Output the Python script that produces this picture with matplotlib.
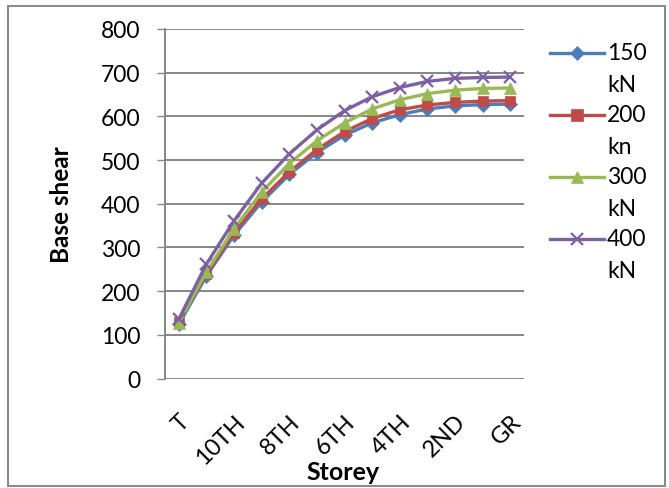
import matplotlib
matplotlib.use("Agg")
import matplotlib.pyplot as plt
from matplotlib.lines import Line2D
from matplotlib.patches import Rectangle

plt.rcParams['font.family'] = ['Lato', 'DejaVu Sans']

storeys = ['T', '11TH', '10TH', '9TH', '8TH', '7TH', '6TH', '5TH', '4TH', '3RD', '2ND', '1ST', 'GR']
shear_150 = [124, 235, 328, 404, 467, 517, 557, 585, 604, 617, 624, 627, 628]
shear_200 = [130, 239, 334, 411, 473, 524, 565, 595, 615, 626, 632, 635, 636]
shear_300 = [128, 244, 343, 427, 492, 544, 585, 617, 638, 652, 660, 664, 665]
shear_400 = [136, 262, 361, 447, 514, 569, 613, 645, 666, 680, 687, 689, 690]
legend_top = ['150', '200', '300', '400']
legend_bottom = ['kN', 'kn', 'kN', 'kN']

series = [
    (shear_150, '#4A7EBB', 'D', 7),
    (shear_200, '#BE4B48', 's', 7.5),
    (shear_300, '#98B954', '^', 8.5),
    (shear_400, '#7D60A0', 'x', 8),
]

W, H = 669, 489
fig = plt.figure(figsize=(W / 100, H / 100), dpi=100)
ax = fig.add_axes([165 / W, 1 - 379.5 / H, (524 - 165) / W, (379.5 - 30) / H])

x = list(range(len(storeys)))
for vals, col, mk, ms in series:
    ax.plot(x, vals, color=col, lw=2.4, marker=mk, markersize=ms,
            markeredgewidth=1.6 if mk == 'x' else 0.5, markeredgecolor=col,
            markerfacecolor=col, zorder=3)

grid = '#868686'
ax.set_xlim(-0.5, len(storeys) - 0.5)
ax.set_ylim(0, 800)
ax.set_yticks(range(0, 801, 100))
ax.grid(axis='y', color=grid, lw=1.4)
ax.set_axisbelow(True)
for s in ['top', 'right', 'bottom']:
    ax.spines[s].set_visible(False)
ax.spines['left'].set_color(grid)
ax.spines['left'].set_linewidth(1.4)
ax.tick_params(axis='y', length=5.5, width=1.0, color=grid, pad=12, labelsize=16.5)
ax.set_xticks(x[::2])
ax.set_xticklabels(storeys[::2], rotation=45, ha='right', rotation_mode='anchor', fontsize=17)
ax.tick_params(axis='x', length=0, pad=23)

ax.set_ylabel('Base shear', fontsize=17.5, fontweight='bold')
ax.yaxis.set_label_coords(-0.256, 0.5)
ax.set_xlabel('Storey', fontsize=18, fontweight='bold')
ax.xaxis.set_label_coords(0.496, -0.232)

# legend drawn by hand so the marker sits beside the first line of each label
for i, (vals, col, mk, ms) in enumerate(series):
    yc = 1 - (54 + 62 * i) / H
    fig.add_artist(Line2D([550 / W, 604 / W], [yc, yc], color=col, lw=2.4))
    fig.add_artist(Line2D([577 / W], [yc], color=col, marker=mk, markersize=ms + 0.5,
                          markeredgewidth=1.6 if mk == 'x' else 0.5,
                          markeredgecolor=col, markerfacecolor=col))
    fig.text(607 / W, yc, legend_top[i], fontsize=16.5, va='center', ha='left')
    fig.text(607 / W, yc - 31 / H, legend_bottom[i], fontsize=16.5, va='center', ha='left')

fig.add_artist(Rectangle((8 / W, 2 / H), 657 / W, 480 / H, transform=fig.transFigure,
                         fill=False, edgecolor=grid, lw=1.4))

fig.savefig('out.png', dpi=100)
